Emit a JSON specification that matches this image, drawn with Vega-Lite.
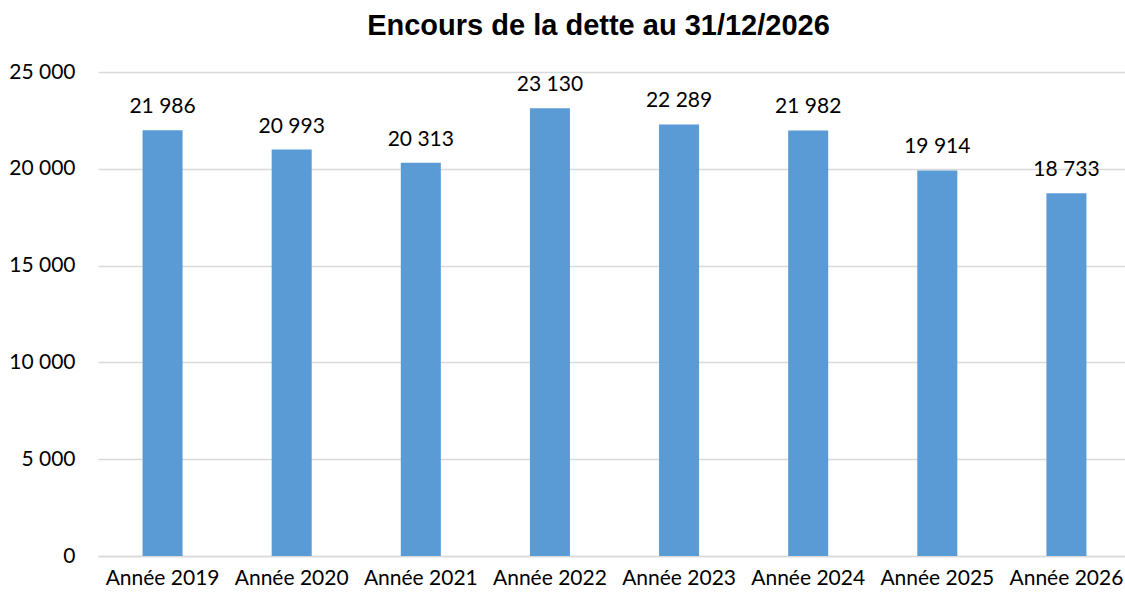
{
  "$schema": "https://vega.github.io/schema/vega-lite/v6.json",
  "width": 1033,
  "height": 484,
  "autosize": {"type": "none"},
  "padding": {"left": 98, "top": 72, "right": 0, "bottom": 42},
  "background": "white",
  "title": {
    "text": "Encours de la dette au 31/12/2026",
    "font": "Liberation Sans",
    "fontSize": 29,
    "fontWeight": "bold",
    "color": "#000000",
    "anchor": "middle",
    "frame": "group",
    "dx": -16,
    "offset": 20
  },
  "config": {
    "locale": {"number": {"decimal": ",", "thousands": " ", "grouping": [3], "currency": ["", " €"]}},
    "view": {"stroke": null},
    "axis": {"labelFont": "Lato", "labelFontSize": 21, "labelColor": "#000000", "domain": false, "ticks": false}
  },
  "data": {
    "values": [
      {"annee": "Année 2019", "encours": 21986},
      {"annee": "Année 2020", "encours": 20993},
      {"annee": "Année 2021", "encours": 20313},
      {"annee": "Année 2022", "encours": 23130},
      {"annee": "Année 2023", "encours": 22289},
      {"annee": "Année 2024", "encours": 21982},
      {"annee": "Année 2025", "encours": 19914},
      {"annee": "Année 2026", "encours": 18733}
    ]
  },
  "encoding": {
    "x": {
      "field": "annee", "type": "nominal", "sort": null,
      "scale": {"paddingInner": 0.69, "paddingOuter": 0.345},
      "axis": {"title": null, "labelAngle": 0, "labelPadding": 11, "grid": false, "domain": true, "domainColor": "#D9D9D9", "domainWidth": 1.5}
    },
    "y": {
      "field": "encours", "type": "quantitative",
      "scale": {"domain": [0, 25000]},
      "axis": {"title": null, "values": [0, 5000, 10000, 15000, 20000, 25000], "format": ",d", "labelPadding": 23, "grid": true, "gridColor": "#D9D9D9", "gridWidth": 1.5}
    }
  },
  "layer": [
    {"mark": {"type": "bar", "color": "#5B9BD5"}},
    {
      "mark": {"type": "text", "font": "Lato", "fontSize": 21, "color": "#000000", "baseline": "alphabetic", "dy": -17},
      "encoding": {"text": {"field": "encours", "type": "quantitative", "format": ",d"}}
    }
  ]
}
